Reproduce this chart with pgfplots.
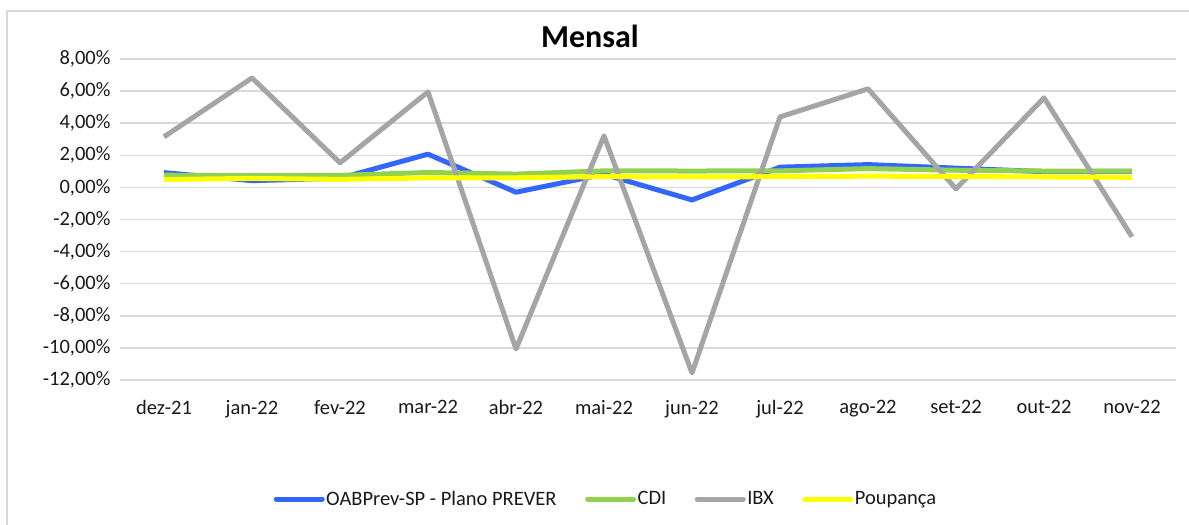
\documentclass[border=0pt]{standalone}
\usepackage{pgfplots}
\pgfplotsset{compat=1.18}
\usepackage{fontspec}
\setmainfont{Carlito}
\definecolor{cBlue}{HTML}{3366FF}
\definecolor{cGreen}{HTML}{92D050}
\definecolor{cGray}{HTML}{A5A5A5}
\definecolor{cYellow}{HTML}{FFFF00}
\definecolor{cGrid}{HTML}{D9D9D9}
\begin{document}
\begin{tikzpicture}
\path[use as bounding box] (0,0) rectangle (1189bp,525bp);
\draw[cGrid, line width=1.2bp] (7bp,0) -- (7bp,514bp) -- (1189bp,514bp);
\begin{axis}[
  at={(120bp,145bp)}, anchor=south west,
  scale only axis, width=1056bp, height=321bp,
  xmin=-0.5, xmax=11.5, ymin=-12, ymax=8,
  axis line style={draw=none},
  tick style={draw=none},
  xtick={0,...,11},
  xticklabels={dez-21,jan-22,fev-22,mar-22,abr-22,mai-22,jun-22,jul-22,ago-22,set-22,out-22,nov-22},
  ytick={-12,-10,...,8},
  yticklabel={\pgfmathprintnumber{\tick}\%},
  /pgf/number format/.cd, fixed, fixed zerofill, precision=2, use comma, assume math mode=true,
  /pgfplots/.cd,
  ymajorgrids, grid style={cGrid, line width=1.5bp},
  ticklabel style={font=\fontsize{20.5bp}{24bp}\selectfont, text=black!90},
  yticklabel style={xshift=-6bp},
  xticklabel style={yshift=-17bp},
  legend columns=4,
  legend style={at={(0.460,-0.371)}, anchor=center, draw=none, fill=none,
    font=\fontsize{20.5bp}{24bp}\selectfont, text=black!90,
    nodes={inner sep=1.5bp},
    /tikz/every even column/.append style={column sep=27bp}},
  legend image code/.code={\draw[#1, line width=5bp, line cap=round] (0bp,0bp) -- (46bp,0bp);},
  clip=false,
]
\addplot[cBlue, line width=5bp, line join=round] coordinates {
(0,0.92) (1,0.42) (2,0.57) (3,2.07) (4,-0.30) (5,0.82) (6,-0.78) (7,1.26) (8,1.42) (9,1.20) (10,0.98) (11,1.00)};
\addlegendentry{OABPrev-SP - Plano PREVER}
\addplot[cGreen, line width=5bp, line join=round] coordinates {
(0,0.76) (1,0.73) (2,0.75) (3,0.93) (4,0.83) (5,1.03) (6,1.02) (7,1.03) (8,1.17) (9,1.07) (10,1.02) (11,1.02)};
\addlegendentry{CDI}
\addplot[cGray, line width=5bp, line join=round] coordinates {
(0,3.15) (1,6.82) (2,1.53) (3,5.95) (4,-10.07) (5,3.21) (6,-11.56) (7,4.39) (8,6.14) (9,-0.09) (10,5.58) (11,-3.08)};
\addlegendentry{IBX}
\addplot[cYellow, line width=5bp, line join=round] coordinates {
(0,0.49) (1,0.56) (2,0.50) (3,0.59) (4,0.60) (5,0.67) (6,0.65) (7,0.67) (8,0.70) (9,0.68) (10,0.65) (11,0.63)};
\addlegendentry{Poupança}
\node[font=\bfseries\fontsize{32bp}{38bp}\selectfont, text=black] at (rel axis cs:0.445,1.07) {Mensal};
\end{axis}
\end{tikzpicture}
\end{document}
